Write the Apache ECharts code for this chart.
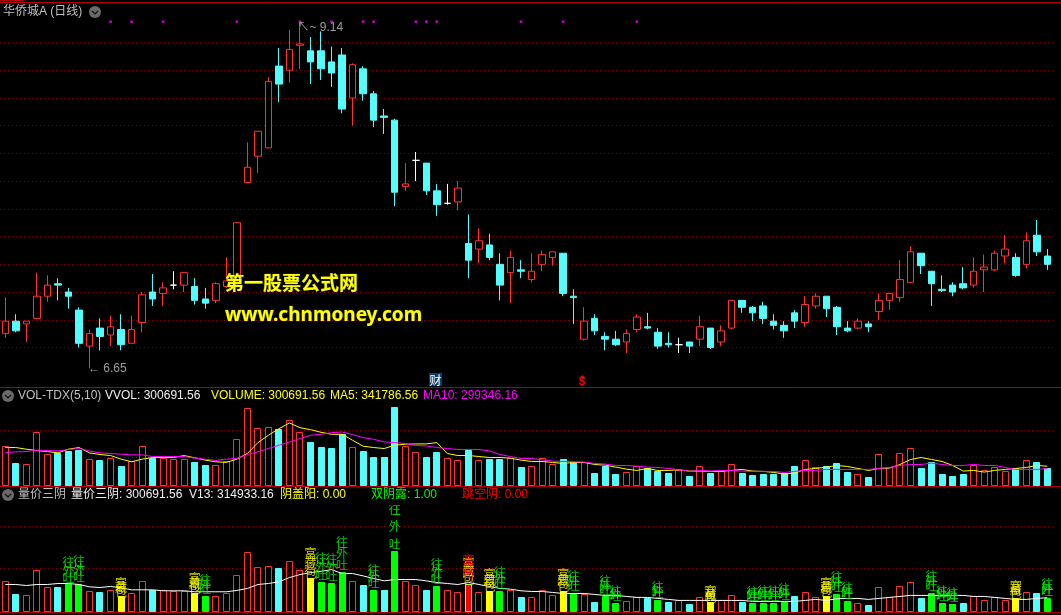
<!DOCTYPE html>
<html><head><meta charset="utf-8">
<style>html,body{margin:0;padding:0;background:#000}#c{width:1061px;height:615px}</style>
<script src="https://cdn.jsdelivr.net/npm/echarts@6/dist/echarts.min.js"></script>
</head><body><div id="c"></div>
<script>
const open=[6.90,6.99,6.97,7.01,7.17,7.26,7.20,7.07,6.81,6.94,
6.89,6.93,6.83,6.98,7.20,7.19,7.25,7.25,7.24,7.15,
7.14,7.24,7.29,7.99,8.18,8.24,8.83,8.80,8.98,8.94,
8.94,8.86,8.91,8.60,8.81,8.63,8.47,8.44,7.96,8.15,
8.13,7.93,7.84,7.85,7.55,7.51,7.54,7.40,7.34,7.36,
7.29,7.40,7.45,7.48,7.17,6.86,7.01,6.88,6.86,6.84,
6.93,6.95,6.91,6.83,6.82,6.84,6.86,6.94,6.84,6.94,
7.14,7.09,7.10,6.99,6.96,7.05,6.98,7.10,7.17,7.09,
6.94,6.94,6.97,7.06,7.14,7.16,7.27,7.48,7.35,7.22,
7.25,7.26,7.25,7.36,7.36,7.46,7.45,7.40,7.61,7.46];
const close=[6.99,6.92,6.99,7.17,7.25,7.25,7.17,6.83,6.90,6.88,
6.95,6.82,6.93,7.18,7.15,7.23,7.25,7.34,7.14,7.12,
7.26,7.28,7.70,8.10,8.36,8.72,8.70,8.95,8.99,8.86,
8.81,8.78,8.52,8.84,8.63,8.44,8.46,7.92,7.98,8.15,
7.93,7.83,7.84,7.95,7.43,7.57,7.45,7.25,7.45,7.35,
7.35,7.47,7.49,7.19,7.16,6.99,6.92,6.86,6.82,6.90,
7.02,6.94,6.81,6.82,6.82,6.81,6.95,6.80,6.92,7.14,
7.09,7.05,7.01,6.96,6.92,6.99,7.11,7.17,7.08,6.95,
6.92,6.99,6.95,7.14,7.19,7.29,7.49,7.39,7.26,7.21,
7.20,7.23,7.35,7.38,7.48,7.51,7.32,7.57,7.49,7.40];
const low=[6.87,6.91,6.84,7.01,7.13,7.14,7.08,6.80,6.65,6.78,
6.81,6.78,6.83,6.91,7.10,7.10,7.22,7.20,7.11,7.08,
7.12,7.23,7.29,7.99,8.06,8.24,8.57,8.71,8.81,8.70,
8.73,8.68,8.49,8.40,8.58,8.39,8.34,7.82,7.93,8.00,
7.90,7.75,7.83,7.79,7.30,7.41,7.43,7.14,7.12,7.30,
7.27,7.35,7.39,7.17,6.97,6.85,6.89,6.78,6.81,6.76,
6.91,6.93,6.79,6.80,6.76,6.76,6.81,6.79,6.81,6.93,
7.05,6.99,6.97,6.93,6.87,6.94,6.95,7.08,7.02,6.89,
6.91,6.93,6.91,7.00,7.07,7.13,7.27,7.33,7.10,7.20,
7.17,7.22,7.23,7.20,7.35,7.41,7.31,7.37,7.46,7.36];
const high=[7.16,7.04,6.99,7.34,7.32,7.30,7.23,7.09,6.93,7.01,
7.03,7.04,7.03,7.20,7.33,7.27,7.35,7.34,7.30,7.23,
7.27,7.45,7.70,8.28,8.36,8.75,8.96,9.09,9.14,9.04,
9.08,8.97,8.96,8.85,8.83,8.65,8.52,8.45,8.13,8.21,
8.13,7.98,7.98,8.00,7.76,7.66,7.62,7.48,7.50,7.43,
7.48,7.50,7.49,7.48,7.22,7.09,7.04,6.91,6.92,6.93,
7.04,7.05,6.94,6.91,6.87,6.84,7.03,6.94,6.96,7.14,
7.14,7.10,7.13,7.04,6.99,7.07,7.17,7.19,7.17,7.10,
6.99,7.01,6.99,7.19,7.19,7.43,7.53,7.48,7.35,7.32,
7.27,7.38,7.45,7.47,7.50,7.61,7.48,7.63,7.72,7.51];
const vol=[717,398,373,970,572,578,626,633,464,452,
500,343,428,717,500,500,470,470,416,361,
355,434,843,1404,1042,1060,1012,1187,970,777,
687,669,922,699,614,506,506,1410,717,608,
506,596,500,446,633,446,470,470,500,325,
337,500,373,470,416,410,217,343,199,229,
337,307,253,217,271,163,337,217,253,373,
217,181,199,199,217,343,446,325,343,398,
235,193,145,572,325,590,681,307,416,199,
163,199,361,265,319,253,301,446,416,300.69];
const ma5=[681,681,651,626,608,584,651,681,584,554,
536,470,422,470,500,500,500,536,494,452,
422,410,470,572,771,904,1024,1127,1042,1006,
958,922,922,813,705,681,663,723,741,747,
747,771,572,536,536,518,500,500,488,452,
428,428,410,392,410,410,373,361,325,289,
265,301,265,265,277,253,253,247,247,265,
283,253,247,229,199,217,283,301,325,355,
337,301,265,301,307,373,464,500,464,428,
355,253,265,235,265,283,301,319,355,341.79];
const ma10=[590,602,608,633,626,620,645,663,620,584,
572,560,548,548,518,518,518,518,488,470,
446,470,482,554,602,663,723,783,843,904,
922,952,964,916,861,831,783,771,753,717,
711,681,663,645,645,645,620,554,518,482,
482,458,434,428,422,416,392,380,355,355,
343,325,319,301,277,247,265,253,265,265,
253,247,247,247,229,247,265,265,283,283,
283,283,283,301,319,355,373,373,398,373,
355,355,373,355,355,319,283,283,283,299.35];
const v13=[626,626,602,626,626,649,649,626,571,555,
579,547,500,500,500,477,477,477,454,454,
454,454,485,532,626,649,688,790,860,907,
938,977,884,884,829,766,712,743,743,743,
712,673,649,626,673,626,579,532,516,477,
461,461,438,414,414,414,391,368,368,344,
321,321,297,274,250,250,250,250,250,250,
250,227,227,227,227,227,250,274,250,289,
297,297,274,297,321,344,368,368,368,368,
368,368,344,344,321,297,274,274,297,314.93];
const categories=open.map((_,i)=>String(i+1));
const dotDays=[10,12,15,22,28,31,34,35,39,40,41,49,53,60];
const dotLevel=9.15;
const greenDays=[6,7,19,30,31,32,35,37,41,47,54,57,58,62,71,72,73,74,79,80,88,89,90,99];
const yellowDays=[11,18,29,44,46,53,67,78,96];
const redDays=[44];
const greenChars=['吐','外','往'];
const yellowChars=['包','藏','富'];
const charLevels=[1,1.3,1.6];
const monthTicks=[11,18,23,28,44,49,54,59,64,68,73,78,83];
const RED='#ff3232',CYAN='#54fcfc',GRID='#800000',LINE='#b00000',GREY='#c0c0c0';
const SANS='"Liberation Sans","Noto Sans CJK SC",sans-serif';
const INVIS='rgba(0,0,0,0)';

function barStyle(i,recolor){
  if(recolor){
    if(redDays.includes(i)) return {fill:'#ff0000',stroke:CYAN};
    if(yellowDays.includes(i)) return {fill:'#ffff00',stroke:'#ffff00'};
    if(greenDays.includes(i)) return {fill:'#00ff00',stroke:'#00ff00'};
  }
  return close[i]>=open[i]?{fill:'#000',stroke:RED}:{fill:CYAN,stroke:CYAN};
}
function volumeBars(axisIdx,recolor){
  return {type:'custom',xAxisIndex:axisIdx,yAxisIndex:axisIdx,clip:false,z:2,silent:true,
    encode:{x:0,y:1},data:vol.map((v,i)=>[i,v]),
    renderItem:(params,api)=>{
      const base=api.coord([api.value(0),0]),top=api.coord([api.value(0),api.value(1)]);
      const x=Math.floor(base[0])-3+0.5,yT=Math.round(top[1])+0.5,yB=Math.round(base[1])+0.5;
      const st=barStyle(params.dataIndex,recolor);
      return {type:'rect',shape:{x:x,y:yT,width:6,height:yB-yT},style:{fill:st.fill,stroke:st.stroke,lineWidth:1}};
    }};
}
function charSeries(days,chars,color,offsetY){
  const d=[];
  days.forEach(i=>chars.forEach((c,k)=>d.push({value:[String(i+1),vol[i]*charLevels[k]],ch:c})));
  return {type:'scatter',xAxisIndex:2,yAxisIndex:2,symbolSize:1,itemStyle:{color:INVIS},silent:true,clip:false,z:6,
    data:d,label:{show:true,position:'top',distance:offsetY,color:color,fontSize:12,fontFamily:'"Noto Sans CJK SC"',
      lineHeight:12,formatter:p=>p.data.ch}};
}
const headerRows=[
 ['华侨城A (日线)',3,12,GREY,12],
 ['VOL-TDX(5,10)',18,396,GREY,12],['VVOL: 300691.56',105,396,'#f0f0f0',12],
 ['VOLUME: 300691.56',211,396,'#ffff00',12],['MA5: 341786.56',330,396,'#ffff00',12],['MA10: 299346.16',423,396,'#ff00ff',12],
 ['量价三阴',18,495,GREY,12],['量价三阴: 300691.56',71,495,'#f0f0f0',12],['V13: 314933.16',189,495,'#f0f0f0',12],
 ['阴盖阳: 0.00',280,495,'#ffff00',12],['双阴露: 1.00',371,495,'#00ff00',12],['跳空阴: 0.00',462,495,'#ff0000',12]
];
const g=[];
g.push({type:'rect',z:90,shape:{x:0,y:487,width:1061,height:18},style:{fill:'#000'}});
[[0,2.5,1061,2.5],[0,387.5,1061,387.5],[0,486.5,1061,486.5],[0,612.5,1061,612.5],[23.5,0,23.5,2.5],[0,0.5,23.5,0.5]].forEach(l=>
  g.push({type:'line',z:91,shape:{x1:l[0],y1:l[1],x2:l[2],y2:l[3]},style:{stroke:LINE,lineWidth:1}}));
headerRows.forEach(r=>g.push({type:'text',z:100,x:r[1],y:r[2],style:{text:r[0],fill:r[3],font:r[4]+'px '+SANS,textVerticalAlign:'middle'}}));
[[95,12],[8,396],[8,495]].forEach(c=>{
  g.push({type:'circle',z:100,shape:{cx:c[0],cy:c[1],r:6},style:{fill:'#6a6a6a'}});
  g.push({type:'polyline',z:101,shape:{points:[[c[0]-3,c[1]-1],[c[0],c[1]+2],[c[0]+3,c[1]-1]]},style:{stroke:'#111',fill:null,lineWidth:1.2}});
});
g.push({type:'text',z:100,x:225,y:283,style:{text:'第一股票公式网',fill:'#ffff00',stroke:'#5a5a00',lineWidth:0.5,font:'bold 19px "Noto Sans CJK SC"',textVerticalAlign:'middle'}});
g.push({type:'text',z:100,x:225,y:316,style:{text:'www.chnmoney.com',fill:'#ffff00',stroke:'#5a5a00',lineWidth:0.5,font:'bold 19px "Noto Sans",sans-serif',textVerticalAlign:'middle'}});
g.push({type:'rect',z:100,shape:{x:429,y:373,width:13,height:13},style:{fill:'#0c3f6e'}});
g.push({type:'text',z:101,x:429.5,y:380,style:{text:'财',fill:'#ffffff',font:'12px "Noto Sans CJK SC"',textVerticalAlign:'middle'}});
g.push({type:'text',z:101,x:579,y:382,style:{text:'$',fill:'#ff0000',font:'bold 11px "Liberation Sans"',textVerticalAlign:'middle'}});
g.push({type:'polygon',z:101,shape:{points:[[582.5,375],[579.5,378],[585.5,378]]},style:{fill:'#ff0000'}});

const mkX=(idx,extra)=>Object.assign({type:'category',gridIndex:idx,data:categories,boundaryGap:true,
  axisLine:{show:false},axisTick:{show:false},axisLabel:{show:false},splitLine:{show:false}},extra||{});
const mkY=(idx,min,max,interval)=>({type:'value',gridIndex:idx,min,max,interval,scale:false,
  axisLine:{show:false},axisTick:{show:false},axisLabel:{show:false},
  splitLine:{show:true,lineStyle:{color:GRID,type:[1,3],width:1}}});

const chart=echarts.init(document.getElementById('c'),null,{renderer:'canvas'});
chart.setOption({
  backgroundColor:'#000',animation:false,tooltip:{show:false},legend:{show:false},
  grid:[
    {left:-0.9,width:1053.5,top:42.5,height:305},
    {left:-0.9,width:1053.5,top:430,height:55},
    {left:-0.9,width:1053.5,top:526.3,height:84.7}
  ],
  xAxis:[mkX(0),mkX(1),mkX(2,{axisTick:{show:true,customValues:monthTicks,alignWithLabel:true,length:3,lineStyle:{color:LINE}}})],
  yAxis:[mkY(0,6.8,9.0,0.2),mkY(1,0,1000,500),mkY(2,0,2000,1000)],
  graphic:g,
  series:[
    {type:'candlestick',xAxisIndex:0,yAxisIndex:0,clip:false,barWidth:7,
     data:open.map((o,i)=>[o,close[i],low[i],high[i]]),
     itemStyle:{color:'#000',color0:CYAN,borderColor:RED,borderColor0:CYAN,borderColorDoji:'#ffffff',borderWidth:1}},
    {type:'scatter',xAxisIndex:0,yAxisIndex:0,clip:false,symbol:'rect',symbolSize:2.5,itemStyle:{color:'#ff00ff'},
     data:dotDays.map(i=>[String(i+1),dotLevel])},
    {type:'scatter',xAxisIndex:0,yAxisIndex:0,clip:false,symbolSize:1,itemStyle:{color:INVIS},
     data:[{value:[String(29),9.14],t:'↖~ 9.14',label:{offset:[-3,5]}},{value:[String(9),6.65],t:'← 6.65',label:{offset:[-2,0]}}],
     label:{show:true,position:'right',distance:0,color:GREY,fontSize:12,fontFamily:SANS,
       formatter:p=>p.data.t}},
    volumeBars(1,false),
    {type:'line',xAxisIndex:1,yAxisIndex:1,clip:false,data:ma5,symbol:'none',lineStyle:{color:'#ffff00',width:1},z:4},
    {type:'line',xAxisIndex:1,yAxisIndex:1,clip:false,data:ma10,symbol:'none',lineStyle:{color:'#ff00ff',width:1},z:5},
    volumeBars(2,true),
    {type:'line',xAxisIndex:2,yAxisIndex:2,clip:false,data:v13,symbol:'none',lineStyle:{color:'#ffffff',width:1},z:4},
    charSeries(greenDays,greenChars,'#00ff00',0),
    charSeries(yellowDays,yellowChars,'#ffff00',-2),
    charSeries(redDays,yellowChars,'#ff0000',1)
  ]
});
</script></body></html>
